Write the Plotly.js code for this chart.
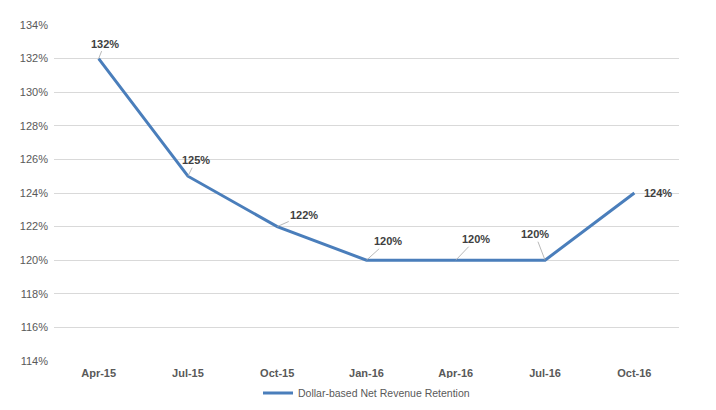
<!DOCTYPE html>
<html>
<head>
<meta charset="utf-8">
<script src="https://cdn.plot.ly/plotly-3.0.1.min.js"></script>
<style>
  html, body { margin: 0; padding: 0; background: #ffffff; }
  #chart { width: 716px; height: 410px; }
</style>
</head>
<body>
<div id="chart"></div>
<script>
// Quarterly dollar-based net revenue retention
const quarters = ["Apr-15", "Jul-15", "Oct-15", "Jan-16", "Apr-16", "Jul-16", "Oct-16"];
const retention = [132, 125, 122, 120, 120, 120, 124];
const seriesName = "Dollar-based Net Revenue Retention";

// Callout offsets (px) for each data label, relative to its point
const labelDX = [6, 8, 27, 21, 20, -10, 24];
const labelDY = [-15, -16, -12, -19, -21, -26, 0];
const labelLeader = [true, true, true, true, true, true, false];

const lineColor = "#4a7ebb";
const textGray = "#595959";

const trace = {
  x: quarters,
  y: retention,
  type: "scatter",
  mode: "lines",
  name: seriesName,
  line: { color: lineColor, width: 3 },
  hoverinfo: "x+y"
};

const annotations = quarters.map((q, i) => {
  const a = {
    x: q,
    y: retention[i],
    xref: "x",
    yref: "y",
    text: retention[i] + "%",
    font: { family: "Liberation Sans, Arial, sans-serif", size: 11, color: "#404040", weight: "bold" }
  };
  if (labelLeader[i]) {
    a.showarrow = true;
    a.arrowhead = 0;
    a.arrowwidth = 0.8;
    a.arrowcolor = "#a6a6a6";
    a.ax = labelDX[i];
    a.ay = labelDY[i];
    a.standoff = 0;
  } else {
    a.showarrow = false;
    a.xshift = labelDX[i];
    a.yshift = -labelDY[i];
  }
  return a;
});

const layout = {
  width: 716,
  height: 410,
  margin: { l: 54, r: 37, t: 25, b: 49, autoexpand: false },
  paper_bgcolor: "#ffffff",
  plot_bgcolor: "#ffffff",
  font: { family: "Liberation Sans, Arial, sans-serif", size: 11, color: textGray },
  showlegend: true,
  legend: {
    orientation: "h",
    x: 0.5,
    xanchor: "center",
    y: -0.095,
    yanchor: "middle",
    font: { size: 10.5, color: textGray },
    itemwidth: 30
  },
  xaxis: {
    type: "category",
    range: [-0.5, 6.5],
    showgrid: false,
    zeroline: false,
    showline: false,
    ticks: "",
    ticklabelstandoff: 4,
    tickfont: { size: 11, color: textGray, weight: "bold" },
    fixedrange: true
  },
  yaxis: {
    range: [114, 134],
    dtick: 2,
    tick0: 114,
    ticksuffix: "%",
    showgrid: true,
    gridcolor: "#d9d9d9",
    gridwidth: 1,
    zeroline: false,
    showline: false,
    ticks: "",
    ticklen: 0,
    ticklabelstandoff: 5,
    tickfont: { size: 11, color: textGray },
    fixedrange: true
  },
  annotations: annotations
};

Plotly.newPlot("chart", [trace], layout, { displayModeBar: false, staticPlot: true });
</script>
</body>
</html>
